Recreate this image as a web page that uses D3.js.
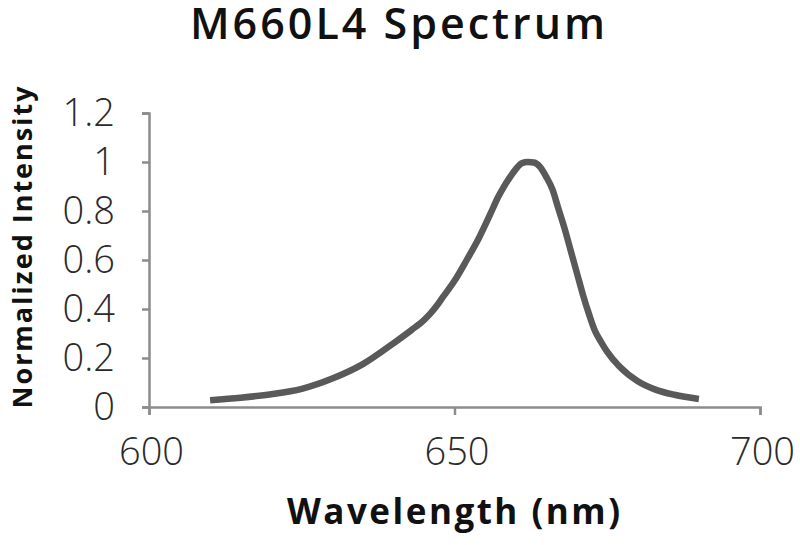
<!DOCTYPE html>
<html>
<head>
<meta charset="utf-8">
<script src="https://cdn.jsdelivr.net/npm/d3@7/dist/d3.min.js"></script>
<style>
  html, body { margin: 0; padding: 0; background: #fff; }
  svg { display: block; }
</style>
</head>
<body>
<svg id="chart" width="800" height="545"></svg>
<script>
const title = "M660L4 Spectrum";
const xLabel = "Wavelength (nm)";
const yLabel = "Normalized Intensity";
const xTicks = [600, 650, 700];
const yTicks = [0, 0.2, 0.4, 0.6, 0.8, 1, 1.2];
const wavelength = [610, 615, 620, 625, 630, 635, 640, 643, 645, 646, 647, 648, 650, 652, 654, 656, 657, 658, 659, 660, 661, 662, 663, 664, 665, 666, 667, 668, 669, 670, 671, 672, 673, 674, 675, 677, 680, 683, 686, 690];
const intensity  = [0.028, 0.038, 0.052, 0.074, 0.116, 0.175, 0.26, 0.315, 0.355, 0.38, 0.41, 0.445, 0.515, 0.60, 0.69, 0.795, 0.85, 0.895, 0.935, 0.97, 0.995, 1.0, 0.998, 0.98, 0.94, 0.89, 0.81, 0.73, 0.64, 0.55, 0.46, 0.38, 0.31, 0.265, 0.225, 0.165, 0.105, 0.07, 0.05, 0.033];

const svg = d3.select("#chart");
const mLeft = 149, mRight = 760, mTop = 113, mBottom = 407;
const x = d3.scaleLinear().domain([600, 700]).range([mLeft, mRight]);
const y = d3.scaleLinear().domain([0, 1.2]).range([mBottom, mTop]);

const axisColor = "#8c8c8c";
const font = "'Open Sans', 'Noto Sans', sans-serif";

// X axis
const gx = svg.append("g").attr("transform", `translate(0,${mBottom})`)
  .call(d3.axisBottom(x).tickValues(xTicks).tickSize(8).tickPadding(23).tickFormat(d3.format("d")));
// Y axis
const gy = svg.append("g").attr("transform", `translate(${mLeft},0)`)
  .call(d3.axisLeft(y).tickValues(yTicks).tickSize(7).tickPadding(27).tickFormat(d => d3.format("~g")(d)));

[gx, gy].forEach(g => {
  g.select(".domain").attr("stroke", axisColor).attr("stroke-width", 2.5);
  g.selectAll(".tick line").attr("stroke", axisColor).attr("stroke-width", 2.5);
  g.selectAll(".tick text")
    .attr("fill", "#2a2a2a")
    .style("font-family", font)
    .style("font-weight", 300)
    .style("font-size", "38px");
});
gx.selectAll(".tick text").attr("dx", 2);

// Line
const line = d3.line()
  .x((d, i) => x(wavelength[i]))
  .y(d => y(d))
  .curve(d3.curveMonotoneX);

svg.append("path")
  .datum(intensity)
  .attr("fill", "none")
  .attr("stroke", "#595959")
  .attr("stroke-width", 6.5)
  .attr("stroke-linejoin", "round")
  .attr("d", line);

// Title
svg.append("text")
  .attr("x", 397.5).attr("y", 39)
  .attr("text-anchor", "middle")
  .attr("fill", "#111")
  .attr("textLength", 415)
  .attr("lengthAdjust", "spacing")
  .style("font-family", font)
  .style("font-weight", 600)
  .style("font-size", "43px")
  .text(title);

// X label
svg.append("text")
  .attr("x", 453.5).attr("y", 524)
  .attr("text-anchor", "middle")
  .attr("fill", "#111")
  .attr("textLength", 333)
  .attr("lengthAdjust", "spacing")
  .style("font-family", font)
  .style("font-weight", 700)
  .style("font-size", "35px")
  .text(xLabel);

// Y label
svg.append("text")
  .attr("transform", "translate(32,247.5) rotate(-90)")
  .attr("text-anchor", "middle")
  .attr("fill", "#111")
  .attr("textLength", 322)
  .attr("lengthAdjust", "spacing")
  .style("font-family", font)
  .style("font-weight", 700)
  .style("font-size", "27px")
  .text(yLabel);
</script>
</body>
</html>
